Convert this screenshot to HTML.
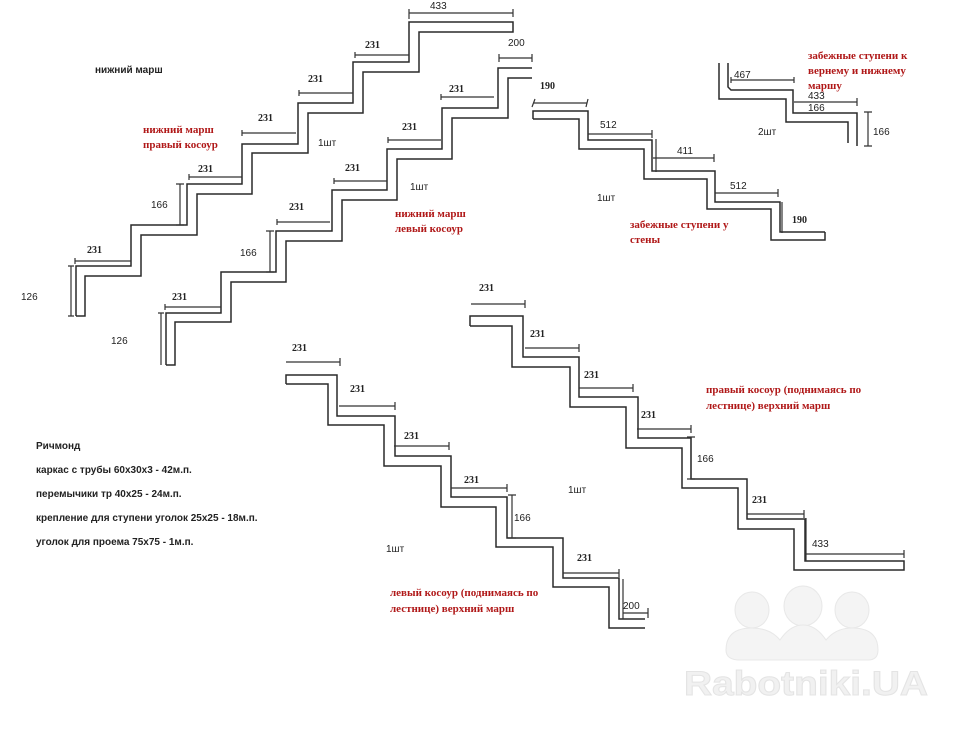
<!DOCTYPE html>
<html><head><meta charset="utf-8"><style>
html,body{margin:0;padding:0;background:#fff;}
svg{display:block;}
.s{fill:none;stroke:#2a2a2a;stroke-width:1.5;}
.d{fill:none;stroke:#333;stroke-width:1.2;}
text{font-family:"Liberation Sans",sans-serif;font-size:10px;fill:#222;}
.b{font-weight:bold;}
.r{font-family:"Liberation Serif",serif;font-size:11px;fill:#b01818;font-weight:bold;}
.m{font-family:"Liberation Serif",serif;font-weight:bold;font-size:10px;}
</style></head><body>
<svg width="961" height="730" viewBox="0 0 961 730" xmlns="http://www.w3.org/2000/svg">
<!-- Stair A -->
<polyline class="s" points="76,316 76,266 131,266 131,225 187,225 187,184 242,184 242,144 298,144 298,103 353,103 353,62 409,62 409,22 513,22 513,32 419,32 419,72 363,72 363,113 308,113 308,153 252,153 252,194 197,194 197,235 141,235 141,276 85,276 85,316 76,316"/>
<g class="d">
<path d="M75,261H131M75,258V264"/>
<path d="M189,177H242M189,174V180"/>
<path d="M242,133H296M242,130V136"/>
<path d="M299,93H353M299,90V96"/>
<path d="M355,55H409M355,52V58"/>
<path d="M409,13H513M409,9V19M513,9V17"/>
<path d="M71,266V316M68,266H74M68,316H74"/>
<path d="M180,184V225M176,184H184M176,225H184"/>
</g>
<text class="m" x="87" y="253">231</text>
<text class="m" x="198" y="172">231</text>
<text class="m" x="258" y="121">231</text>
<text class="m" x="308" y="82">231</text>
<text class="m" x="365" y="48">231</text>
<text x="430" y="9">433</text>
<text x="151" y="208">166</text>
<text x="21" y="300">126</text>
<!-- Stair B -->
<polyline class="s" points="166,365 166,313 221,313 221,272 276,272 276,231 332,231 332,190 387,190 387,149 442,149 442,108 498,108 498,68 532,68"/>
<polyline class="s" points="166,365 175,365 175,322 231,322 231,282 286,282 286,241 342,241 342,200 397,200 397,159 452,159 452,118 508,118 508,78 532,78"/>
<g class="d">
<path d="M165,307H221M165,304V310"/>
<path d="M277,222H330M277,219V225"/>
<path d="M334,181H387M334,178V184"/>
<path d="M388,140H441M388,137V143"/>
<path d="M441,97H494M441,94V100"/>
<path d="M499,58H532M499,54V62M532,54V62"/>
<path d="M161,313V365M158,313H164"/>
<path d="M270,231V272M266,231H274M266,272H274"/>
</g>
<text class="m" x="172" y="300">231</text>
<text class="m" x="289" y="210">231</text>
<text class="m" x="345" y="171">231</text>
<text class="m" x="402" y="130">231</text>
<text class="m" x="449" y="92">231</text>
<text x="508" y="46">200</text>
<text x="240" y="256">166</text>
<text x="111" y="344">126</text>
<text x="95" y="73" class="b">нижний марш</text>
<text class="r" x="143" y="133">нижний марш</text>
<text class="r" x="143" y="148">правый косоур</text>
<text x="318" y="146">1шт</text>
<text x="410" y="190">1шт</text>
<text class="r" x="395" y="217">нижний марш</text>
<text class="r" x="395" y="232">левый косоур</text>
<!-- Stair C -->
<polyline class="s" points="533,119 533,111 588,111 588,140 652,140 652,171 715,171 715,202 780,202 780,232 825,232"/>
<polyline class="s" points="533,119 579,119 579,149 644,149 644,179 707,179 707,209 771,209 771,240 825,240 825,232"/>
<g class="d">
<path d="M534,103H587M532,107L535,99M586,107L588,99"/>
<path d="M588,134H652M652,130V138"/>
<path d="M653,158H714M714,154V162M656,139V172"/>
<path d="M715,193H778M778,189V197M782,202V233"/>
</g>
<text class="m" x="540" y="89">190</text>
<text x="600" y="128">512</text>
<text x="677" y="154">411</text>
<text x="730" y="189">512</text>
<text class="m" x="792" y="223">190</text>
<text x="597" y="201">1шт</text>
<text class="r" x="630" y="228">забежные ступени у</text>
<text class="r" x="630" y="243">стены</text>
<!-- Stair D -->
<polyline class="s" points="719,63 719,99 786,99 786,122 848,122 848,143"/>
<polyline class="s" points="728,63 728,87 731,90 793,90 793,113 857,113 857,146"/>
<g class="d">
<path d="M731,80H794M731,77V83M794,77V83"/>
<path d="M794,102H857M857,98V106"/>
<path d="M868,112V146M864,112H872M864,146H872"/>
</g>
<text x="734" y="78">467</text>
<text x="808" y="99">433</text>
<text x="808" y="111">166</text>
<text x="873" y="135">166</text>
<text x="758" y="135">2шт</text>
<text class="r" x="808" y="59">забежные ступени к</text>
<text class="r" x="808" y="74">вернему и нижнему</text>
<text class="r" x="808" y="89">маршу</text>
<!-- Stair E -->
<polyline class="s" points="470,326 470,316 523,316 523,357 579,357 579,397 638,397 638,438 691,438 691,479 747,479 747,519 805,519 805,561 904,561 904,570 794,570 794,529 738,529 738,488 682,488 682,448 626,448 626,407 570,407 570,367 512,367 512,326 470,326"/>
<g class="d">
<path d="M471,304H525M525,300V308"/>
<path d="M525,348H579M579,344V352"/>
<path d="M579,388H633M633,384V392"/>
<path d="M637,429H691M691,425V433"/>
<path d="M691,437V479M687,437H695M687,479H695"/>
<path d="M747,514H804M804,510V518M806,518V561"/>
<path d="M806,554H904M904,550V558"/>
</g>
<text class="m" x="479" y="291">231</text>
<text class="m" x="530" y="337">231</text>
<text class="m" x="584" y="378">231</text>
<text class="m" x="641" y="418">231</text>
<text x="697" y="462">166</text>
<text class="m" x="752" y="503">231</text>
<text x="812" y="547">433</text>
<text class="r" x="706" y="393">правый косоур (поднимаясь по</text>
<text class="r" x="706" y="409">лестнице)  верхний марш</text>
<!-- Stair F -->
<polyline class="s" points="286,384 286,375 337,375 337,416 395,416 395,456 451,456 451,497 507,497 507,538 563,538 563,578 619,578 619,619 645,619"/>
<polyline class="s" points="286,384 328,384 328,425 384,425 384,466 441,466 441,507 496,507 496,547 553,547 553,587 609,587 609,628 645,628"/>
<g class="d">
<path d="M286,362H340M340,358V366"/>
<path d="M339,406H395M395,402V410"/>
<path d="M394,446H449M449,442V450"/>
<path d="M451,488H507M507,484V492"/>
<path d="M512,495V538M508,495H516M508,538H516"/>
<path d="M563,573H619M619,569V577"/>
<path d="M623,579V619M648,608V618M623,613H648"/>
</g>
<text class="m" x="292" y="351">231</text>
<text class="m" x="350" y="392">231</text>
<text class="m" x="404" y="439">231</text>
<text class="m" x="464" y="483">231</text>
<text x="514" y="521">166</text>
<text class="m" x="577" y="561">231</text>
<text x="623" y="609">200</text>
<text x="568" y="493">1шт</text>
<text x="386" y="552">1шт</text>
<text class="r" x="390" y="596">левый косоур (поднимаясь по</text>
<text class="r" x="390" y="612">лестнице) верхний марш</text>
<!-- Notes -->
<text x="36" y="449" class="b">Ричмонд</text>
<text x="36" y="473" class="b">каркас с трубы 60x30x3 - 42м.п.</text>
<text x="36" y="497" class="b">перемычики тр 40x25 - 24м.п.</text>
<text x="36" y="521" class="b">крепление для ступени уголок 25x25 - 18м.п.</text>
<text x="36" y="545" class="b">уголок для проема 75x75 - 1м.п.</text>
<!-- Watermark -->
<g fill="#f4f4f4" stroke="#e8e8e8" stroke-width="1">
<ellipse cx="752" cy="610" rx="17" ry="18"/>
<ellipse cx="803" cy="606" rx="19" ry="20"/>
<ellipse cx="852" cy="610" rx="17" ry="18"/>
<path d="M726,650Q726,628 752,628Q770,628 780,640Q790,625 803,625Q816,625 826,640Q836,628 852,628Q878,628 878,650Q878,660 868,660H740Q726,660 726,650Z"/>
</g>
<text x="684" y="695" textLength="244" lengthAdjust="spacingAndGlyphs" style="font-size:34px;font-weight:bold;fill:#f1f1f1;stroke:#e4e4e4;stroke-width:1">Rabotniki.UA</text>
</svg>
</body></html>
